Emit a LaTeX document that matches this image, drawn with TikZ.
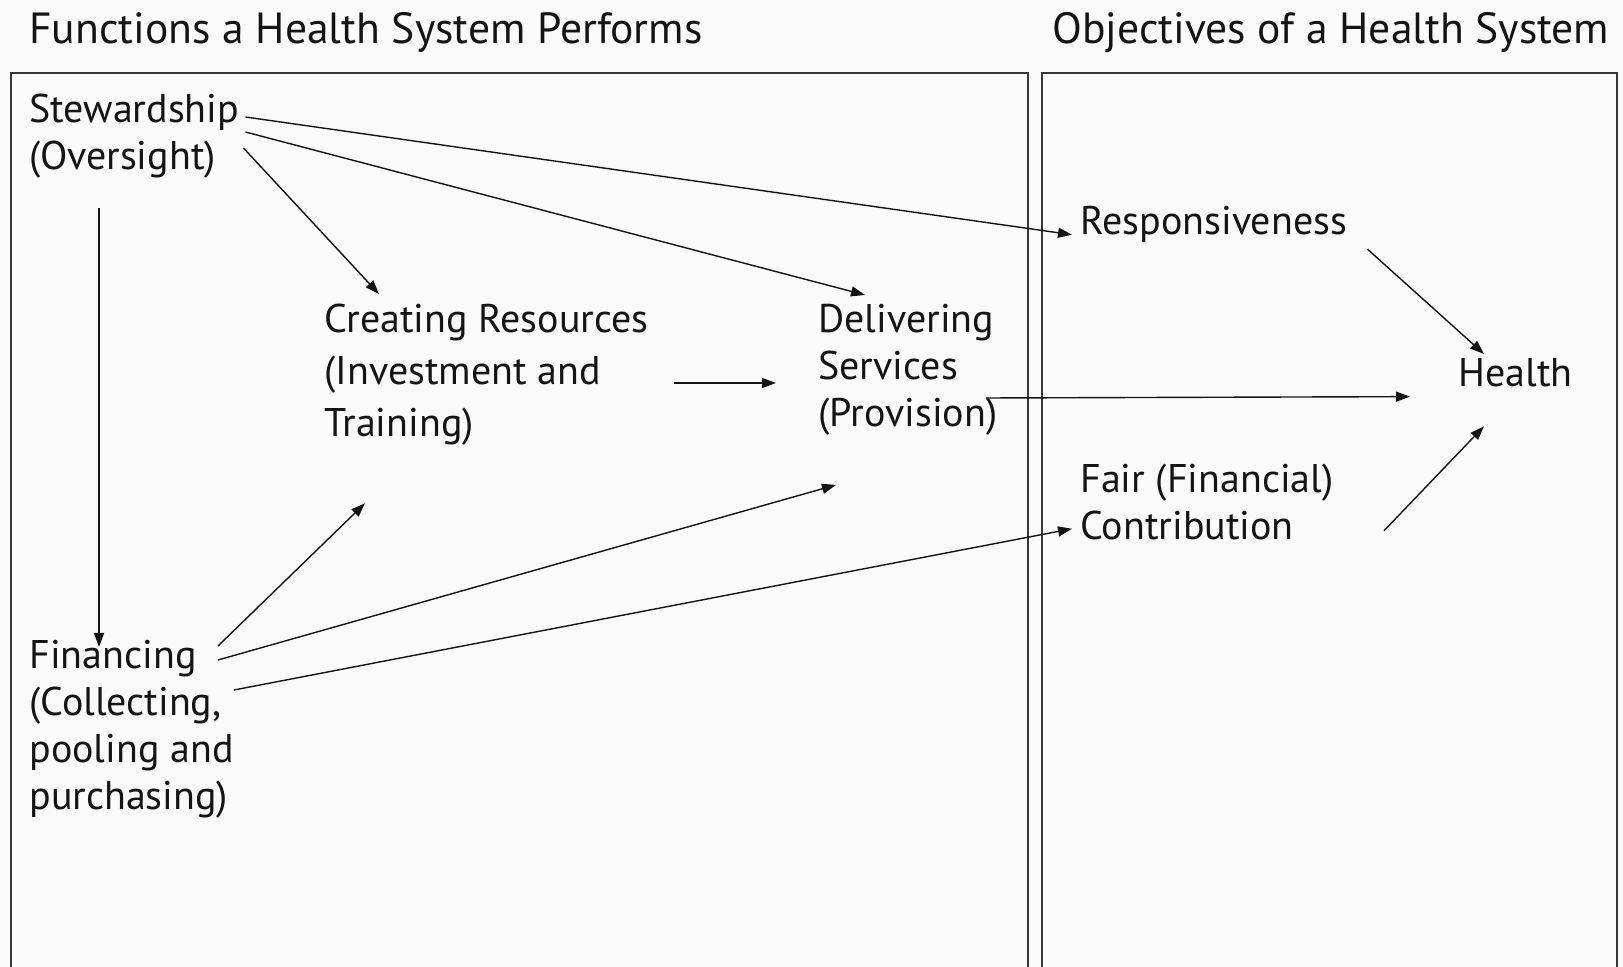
\documentclass[tikz,border=0pt]{standalone}
\usepackage{fontspec}
\setmainfont{PT Sans}
\usepackage{tikz}
\usetikzlibrary{
  arrows.meta,
  calc,
  positioning,
}
\definecolor{paper}{RGB}{250,250,250}
\definecolor{ink}{RGB}{20,20,20}
\tikzset{
  >={Triangle[length=7pt,width=5pt]},
  label/.style={anchor=north west, inner sep=0pt, align=left, text=ink,
    font=\fontsize{20}{23.5}\selectfont},
  heading/.style={label, font=\fontsize{21.8}{25}\selectfont},
  frame/.style={draw=ink!85, line width=0.8pt},
  link/.style={->, draw=ink, line width=0.7pt},
}

\begin{document}
\begin{tikzpicture}[x=0.5pt, y=-0.5pt]
      \clip (0,0) rectangle (1623,967);
      \fill[paper] (0,0) rectangle (1623,967);
      \draw[frame] (11,73) rectangle (1028,1000);
      \draw[frame] (1042,73) rectangle (1617,1000);
      \node[heading] (ftitle) at (29,12) {Functions a Health System Performs};
      \node[heading] (otitle) at (1052,12) {Objectives of a Health System};
      \node[label] (stew) at (29,94) {Stewardship\\(Oversight)};
      \node[label, font=\fontsize{20}{25.8}\selectfont] (creat) at (324,304)
        {Creating Resources\\(Investment and\\Training)};
      \node[label] (deliv) at (818,304) {Delivering\\Services\\(Provision)};
      \node[label] (fin) at (29,640)
        {Financing\\(Collecting,\\pooling and\\purchasing)};
      \node[label] (resp) at (1080,206) {Responsiveness};
      \node[label] (health) at (1458,358) {Health};
      \node[label] (fair) at (1080,464) {Fair (Financial)\\Contribution};
      \draw[link] ($(stew.north east)+(6,23)$) -- ($(resp.base west)+(-8,0)$);
      \draw[link] ($(stew.north east)+(6,38)$) -- ($(deliv.north west)+(47,-9)$);
      \draw[link] ($(stew.north east)+(4,54)$) -- ($(creat.north west)+(55,-10)$);
      \draw[link] ($(stew.south west)+(70,29)$) -- ($(fin.north west)+(70,7)$);
      \draw[link] ($(creat.north east)+(25,79)$) -- ($(deliv.north west)+(-42,79)$);
      \draw[link] ($(deliv.north west)+(168,94)$) -- ($(health.west)+(-48,24)$);
      \draw[link] ($(fin.north west)+(189,6)$) -- ($(creat.south west)+(41,58)$);
      \draw[link] ($(fin.north west)+(189,20)$) -- ($(deliv.south west)+(18,49)$);
      \draw[link] ($(fin.north west)+(205,50)$) -- ($(fair.south west)+(-8,-12)$);
      \draw[link] ($(resp.south east)+(20,6)$) -- ($(health.north west)+(26,-4)$);
      \draw[link] ($(fair.south east)+(50,-10)$) -- ($(health.south west)+(26,39)$);
    \end{tikzpicture}
\end{document}
